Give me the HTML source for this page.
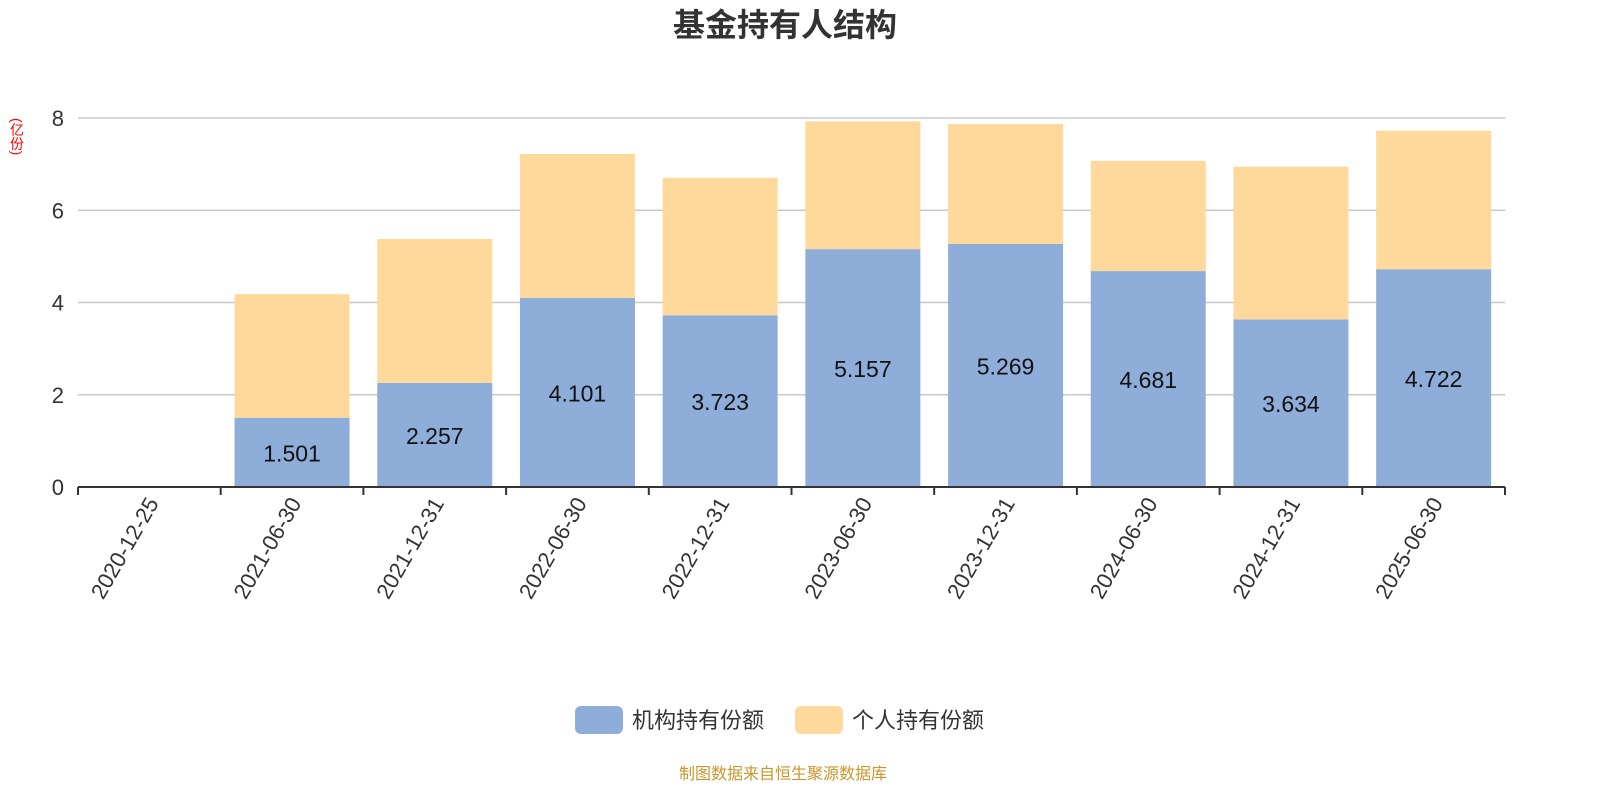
<!DOCTYPE html>
<html><head><meta charset="utf-8"><style>
body{margin:0;background:#fff;}
svg text{font-family:"Liberation Sans","Noto Sans CJK SC",sans-serif;}
</style></head><body>
<svg id="c" width="1600" height="800" xmlns="http://www.w3.org/2000/svg">
<text x="785" y="36" text-anchor="middle" font-size="32" font-weight="bold" fill="#333">基金持有人结构</text>
<text x="17" y="118" font-size="14" fill="#f00" style="writing-mode:tb;">(亿份)</text>
<g id="grid"></g><g id="bars"></g><g id="axes"></g>
<g>
<rect x="575" y="706" width="48" height="28" rx="6" fill="#8eadd9"/>
<text x="632" y="728" font-size="22" fill="#333">机构持有份额</text>
<rect x="795" y="706" width="48" height="28" rx="6" fill="#fed99b"/>
<text x="852" y="728" font-size="22" fill="#333">个人持有份额</text>
</g>
<text x="783" y="779" text-anchor="middle" font-size="16" fill="#c8962a">制图数据来自恒生聚源数据库</text>
</svg>
<script>
const categories=["2020-12-25","2021-06-30","2021-12-31","2022-06-30","2022-12-31","2023-06-30","2023-12-31","2024-06-30","2024-12-31","2025-06-30"];
const institution=[0,1.501,2.257,4.101,3.723,5.157,5.269,4.681,3.634,4.722];
const individual=[0,2.68,3.12,3.12,2.98,2.77,2.60,2.39,3.31,3.0];
const yTicks=[0,2,4,6,8];
const NS="http://www.w3.org/2000/svg";
const x0=78,x1=1505,y0=487,yTop=118,yMax=8;
const bw=(x1-x0)/categories.length;
const ys=v=>y0-(v/yMax)*(y0-yTop);
function el(t,a,p){const e=document.createElementNS(NS,t);for(const k in a)e.setAttribute(k,a[k]);p.appendChild(e);return e;}
const grid=document.getElementById('grid'),bars=document.getElementById('bars'),axes=document.getElementById('axes');
yTicks.forEach(v=>{
 if(v>0){const l=el('line',{x1:x0,x2:x1,y1:ys(v),y2:ys(v),stroke:'#c8c8c8','stroke-width':1.5},grid);
 
 }
 const t=el('text',{x:x0-14,y:ys(v)+8,'text-anchor':'end','font-size':22,fill:'#333'},axes);t.textContent=v;
 
 
});
const ax=el('line',{x1:x0,x2:x1,y1:y0,y2:y0,stroke:'#333','stroke-width':2},axes);


for(let i=0;i<=categories.length;i++){const x=x0+i*bw;el('line',{x1:x,x2:x,y1:y0,y2:y0+8,stroke:'#333','stroke-width':2},axes);}
categories.forEach((c,i)=>{
 const cx=x0+(i+0.5)*bw,w=115;
 const a=institution[i],b=individual[i];
 if(a>0){const r=el('rect',{x:cx-w/2,y:ys(a),width:w,height:y0-ys(a),fill:'#8eadd9'},bars);
 
 
 const t=el('text',{x:cx,y:(ys(a)+y0)/2+9,'text-anchor':'middle','font-size':23,fill:'#111'},bars);t.textContent=a.toFixed(3);
 
 }
 if(b>0){const r=el('rect',{x:cx-w/2,y:ys(a+b),width:w,height:ys(a)-ys(a+b),fill:'#fed99b'},bars);
 
 }
 const lx=cx+10,ly=y0+16;
 const t=el('text',{x:lx,y:ly,'text-anchor':'end','font-size':22,fill:'#333',transform:`rotate(-60 ${lx} ${ly})`},axes);t.textContent=c;
 
 
});
</script>
</body></html>
